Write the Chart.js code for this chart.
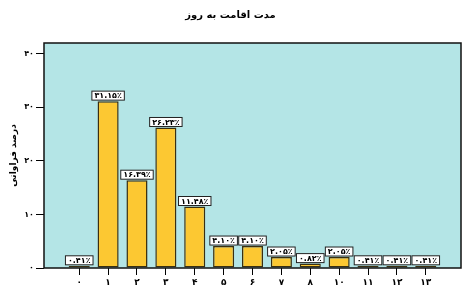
<!DOCTYPE html>
<html>
<head>
<meta charset="utf-8">
<script src="https://cdn.jsdelivr.net/npm/chart.js@4"></script>
<style>
  html, body { margin: 0; padding: 0; background: #fff; }
  #wrap { width: 465px; height: 288px; }
</style>
</head>
<body>
<div id="wrap"><canvas id="chart"></canvas></div>
<script>
// stay length categories (days) and percent frequency
const days = ['0', '1', '2', '3', '4', '5', '6', '7', '8', '10', '11', '12', '13'];
const percents = [0.41, 31.15, 16.39, 26.23, 11.48, 4.10, 4.10, 2.05, 0.82, 2.05, 0.41, 0.41, 0.41];
const yTicks = [0, 10, 20, 30, 40];

const faDigits = '۰۱۲۳۴۵۶۷۸۹';
function toFa(s) {
    return String(s).replace(/[0-9]/g, d => faDigits[d]);
}

const FONT = 'DejaVu Sans';

// cyan plot background and black frame
const frame = {
    id: 'frame',
    beforeDatasetsDraw(chart) {
        const a = chart.chartArea, ctx = chart.ctx;
        ctx.save();
        ctx.fillStyle = '#b4e5e6';
        ctx.fillRect(a.left, a.top, a.right - a.left, a.bottom - a.top);
        ctx.restore();
    },
    afterDatasetsDraw(chart) {
        const a = chart.chartArea, ctx = chart.ctx;
        ctx.save();
        ctx.strokeStyle = '#111';
        ctx.lineWidth = 1.5;
        ctx.strokeRect(a.left, a.top, a.right - a.left, a.bottom - a.top);
        ctx.restore();
    }
};

// white boxed value labels above the bars
const boxLabels = {
    id: 'boxLabels',
    afterDatasetsDraw(chart) {
        const ctx = chart.ctx;
        const meta = chart.getDatasetMeta(0);
        ctx.save();
        ctx.font = 'bold 8px "' + FONT + '"';
        ctx.textAlign = 'center';
        ctx.textBaseline = 'middle';
        ctx.direction = 'ltr';
        meta.data.forEach((bar, i) => {
            const txt = toFa(percents[i].toFixed(2)) + '٪';
            const w = ctx.measureText(txt).width + 5;
            const h = 9;
            const x = bar.x - w / 2;
            const y = bar.y - h - 1;
            ctx.fillStyle = '#fff';
            ctx.fillRect(x, y, w, h);
            ctx.strokeStyle = '#222';
            ctx.lineWidth = 1;
            ctx.strokeRect(x, y, w, h);
            ctx.fillStyle = '#000';
            ctx.fillText(txt, bar.x, y + h / 2 + 0.5);
        });
        ctx.restore();
    }
};

new Chart(document.getElementById('chart'), {
    type: 'bar',
    data: {
        datasets: [{
            data: percents.map((v, i) => ({ x: i, y: v })),
            backgroundColor: '#fcc832',
            borderColor: '#3a2f10',
            borderWidth: 1.5,
            borderSkipped: false,
            categoryPercentage: 1,
            barPercentage: 0.73
        }]
    },
    options: {
        responsive: true,
        maintainAspectRatio: false,
        animation: false,
        layout: { padding: { left: 0, right: 4, top: 0, bottom: 0 } },
        plugins: {
            legend: { display: false },
            tooltip: { enabled: false },
            title: {
                display: true,
                text: 'مدت اقامت به روز',
                color: '#000',
                font: { family: FONT, size: 10, weight: 'bold' },
                padding: { top: 9, bottom: 22 }
            }
        },
        scales: {
            x: {
                type: 'linear',
                offset: false,
                min: -1.22,
                max: days.length - 1 + 1.22,
                afterBuildTicks: s => { s.ticks = days.map((d, i) => ({ value: i })); },
                afterFit: s => { s.height = 20; },
                grid: { display: true, offset: false, drawOnChartArea: false, tickLength: 7, color: '#000', lineWidth: 1 },
                border: { display: false },
                ticks: {
                    padding: 2,
                    color: '#000',
                    font: { family: FONT, size: 9, weight: 'bold' },
                    callback: v => toFa(days[v])
                }
            },
            y: {
                min: 0,
                max: 42,
                afterBuildTicks: s => { s.ticks = yTicks.map(v => ({ value: v })); },
                afterFit: s => { s.width = 44; },
                grid: { display: true, drawOnChartArea: false, tickLength: 8, color: '#000', lineWidth: 1 },
                border: { display: false },
                ticks: {
                    padding: 2,
                    color: '#000',
                    font: { family: FONT, size: 8, weight: 'bold' },
                    callback: v => toFa(v)
                },
                title: {
                    display: true,
                    text: 'درصد فراوانی',
                    color: '#000',
                    font: { family: FONT, size: 9, weight: 'bold' },
                    padding: { top: 8, bottom: 0 }
                }
            }
        }
    },
    plugins: [frame, boxLabels]
});
</script>
</body>
</html>
